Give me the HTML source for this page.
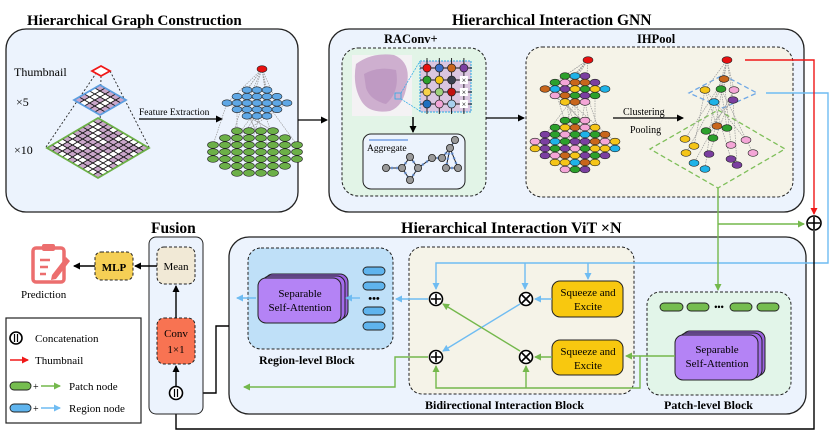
<!DOCTYPE html>
<html><head><meta charset="utf-8"><style>
html,body{margin:0;padding:0;background:#fff;}
svg{display:block;font-family:"Liberation Serif",serif;}
.t{font-weight:bold;}
</style></head><body>
<svg id="s" width="830" height="445" viewBox="0 0 830 445" xmlns="http://www.w3.org/2000/svg">
<defs>
<marker id="ak" markerWidth="8" markerHeight="8" refX="6" refY="4" orient="auto" markerUnits="userSpaceOnUse"><path d="M0,0.5 L7,4 L0,7.5 Z" fill="#000"/></marker>
<marker id="ab" markerWidth="8" markerHeight="8" refX="6" refY="4" orient="auto" markerUnits="userSpaceOnUse"><path d="M0,0.5 L7,4 L0,7.5 Z" fill="#6fbcf2"/></marker>
<marker id="ag" markerWidth="8" markerHeight="8" refX="6" refY="4" orient="auto" markerUnits="userSpaceOnUse"><path d="M0,0.5 L7,4 L0,7.5 Z" fill="#74b84c"/></marker>
<marker id="ar" markerWidth="8" markerHeight="8" refX="6" refY="4" orient="auto" markerUnits="userSpaceOnUse"><path d="M0,0.5 L7,4 L0,7.5 Z" fill="#f01818"/></marker>
</defs>

<text x="27" y="25" class="t" font-size="15">Hierarchical Graph Construction</text>
<text x="452" y="25" class="t" font-size="15.5">Hierarchical Interaction GNN</text>
<text x="151" y="233" class="t" font-size="15.5">Fusion</text>
<text x="401" y="233" class="t" font-size="16">Hierarchical Interaction ViT ×N</text>

<rect x="6" y="29" width="292" height="183" rx="20" fill="#ecf3fd" stroke="#222" stroke-width="1.3"/>
<rect x="329" y="29" width="475" height="183" rx="20" fill="#ecf3fd" stroke="#222" stroke-width="1.3"/>
<rect x="342" y="48" width="144" height="148" rx="16" fill="#e2f4e7" stroke="#222" stroke-dasharray="3,2"/>
<text x="384" y="43" class="t" font-size="12.5">RAConv+</text>
<rect x="526" y="47" width="267" height="150" rx="16" fill="#f5f3e8" stroke="#222" stroke-dasharray="3,2"/>
<text x="637" y="43" class="t" font-size="12.5">IHPool</text>
<rect x="363" y="134" width="102" height="55" rx="8" fill="#ecf3fd" stroke="#222" stroke-width="1"/>
<text x="367" y="151" font-size="9.5">Aggregate</text>
<line x1="369" y1="140" x2="408" y2="140" stroke="#5b8fe0" stroke-width="1.2"/>

<text x="14" y="76" font-size="12">Thumbnail</text>
<text x="16" y="106" font-size="12">×5</text>
<text x="14" y="154" font-size="12">×10</text>
<text x="139" y="115" font-size="9.5">Feature Extraction</text>
<line x1="139" y1="119" x2="222" y2="119" stroke="#000" stroke-width="1.3" marker-end="url(#ak)"/>
<g id="pyr"></g>
<g id="hg"></g>

<line x1="298" y1="120" x2="327" y2="120" stroke="#000" stroke-width="1.3" marker-end="url(#ak)"/>
<line x1="486" y1="118" x2="524" y2="118" stroke="#000" stroke-width="1.3" marker-end="url(#ak)"/>
<line x1="413" y1="117" x2="413" y2="132" stroke="#000" stroke-width="1.5" marker-end="url(#ak)"/>

<rect x="352" y="55" width="60" height="61" fill="#f4f2f4"/>
<path d="M356,64 Q372,52 394,55 Q411,62 407,84 Q404,106 390,111 Q370,114 362,102 Q352,86 356,64Z" fill="#c7a3c8" opacity="0.85"/>
<path d="M364,74 Q378,66 396,70 Q400,92 386,104 Q370,100 366,88Z" fill="#b58cba" opacity="0.6"/>
<rect x="395" y="93" width="6" height="6" fill="none" stroke="#2aa9e6" stroke-width="0.8"/>
<line x1="401" y1="93" x2="420" y2="61" stroke="#2aa9e6" stroke-width="0.7" stroke-dasharray="2,1"/>
<line x1="401" y1="99" x2="420" y2="111" stroke="#2aa9e6" stroke-width="0.7" stroke-dasharray="2,1"/>
<rect x="420" y="61" width="51" height="51" fill="#dac6e0" stroke="#2aa9e6" stroke-dasharray="2,1"/>
<g id="rac"></g>

<text x="623" y="115" font-size="10">Clustering</text>
<text x="630" y="133" font-size="10">Pooling</text>
<line x1="613" y1="118" x2="683" y2="118" stroke="#000" stroke-width="1.3" marker-end="url(#ak)"/>
<g id="ih"></g>

<rect x="229" y="237" width="577" height="177" rx="20" fill="#ecf3fd" stroke="#222" stroke-width="1.3"/>
<rect x="248" y="248" width="145" height="101" rx="13" fill="#bfe0f8" stroke="#222" stroke-dasharray="3,2"/>
<text x="259" y="364" class="t" font-size="12">Region-level Block</text>
<rect x="409" y="247" width="225" height="147" rx="13" fill="#f5f3e8" stroke="#222" stroke-dasharray="3,2"/>
<text x="425" y="409" class="t" font-size="12">Bidirectional Interaction Block</text>
<rect x="647" y="292" width="144" height="103" rx="13" fill="#e2f5e9" stroke="#222" stroke-dasharray="3,2"/>
<text x="664" y="409" class="t" font-size="12">Patch-level Block</text>

<rect x="265" y="274" width="83" height="45" rx="8" fill="#9b63e0" stroke="#222"/>
<rect x="262" y="276" width="83" height="45" rx="8" fill="#a36ceb" stroke="#222"/>
<rect x="258" y="278" width="83" height="45" rx="8" fill="#b483f5" stroke="#222"/>
<text x="300" y="297" text-anchor="middle" font-size="11">Separable</text>
<text x="300" y="311" text-anchor="middle" font-size="11">Self-Attention</text>
<rect x="682" y="331" width="83" height="45" rx="8" fill="#9b63e0" stroke="#222"/>
<rect x="679" y="333" width="83" height="45" rx="8" fill="#a36ceb" stroke="#222"/>
<rect x="675" y="335" width="83" height="45" rx="8" fill="#b483f5" stroke="#222"/>
<text x="717" y="353" text-anchor="middle" font-size="11">Separable</text>
<text x="717" y="367" text-anchor="middle" font-size="11">Self-Attention</text>

<g fill="#5fb4ee" stroke="#222" stroke-width="0.9">
<rect x="363" y="267" width="22" height="8" rx="4"/><rect x="363" y="282" width="22" height="8" rx="4"/>
<rect x="363" y="307" width="22" height="8" rx="4"/><rect x="363" y="322" width="22" height="8" rx="4"/>
</g>
<text x="374" y="302" text-anchor="middle" font-size="11" font-weight="bold">•••</text>
<g fill="#75bd4f" stroke="#222" stroke-width="0.9">
<rect x="660" y="303" width="23" height="8" rx="4"/><rect x="687" y="303" width="22" height="8" rx="4"/>
<rect x="730" y="303" width="22" height="8" rx="4"/><rect x="757" y="303" width="22" height="8" rx="4"/>
</g>
<text x="719" y="310" text-anchor="middle" font-size="9" font-weight="bold">•••</text>

<rect x="552" y="281" width="71" height="36" rx="8" fill="#f8c80f" stroke="#222"/>
<text x="588" y="296" text-anchor="middle" font-size="11">Squeeze and</text>
<text x="588" y="310" text-anchor="middle" font-size="11">Excite</text>
<rect x="552" y="340" width="71" height="35" rx="8" fill="#f8c80f" stroke="#222"/>
<text x="588" y="355" text-anchor="middle" font-size="11">Squeeze and</text>
<text x="588" y="369" text-anchor="middle" font-size="11">Excite</text>

<g fill="none" stroke-width="1.4">
<polyline points="766,93 828,93 828,263 436,263 436,289" stroke="#6fbcf2" marker-end="url(#ab)"/>
<line x1="525" y1="263" x2="525" y2="289" stroke="#6fbcf2" marker-end="url(#ab)"/>
<line x1="588" y1="263" x2="588" y2="279" stroke="#6fbcf2" marker-end="url(#ab)"/>
<line x1="552" y1="299" x2="535" y2="299" stroke="#6fbcf2" marker-end="url(#ab)"/>
<line x1="520" y1="304" x2="443" y2="351" stroke="#6fbcf2" marker-end="url(#ab)"/>
<line x1="428" y1="299" x2="396" y2="299" stroke="#6fbcf2" marker-end="url(#ab)"/>
<line x1="360" y1="298" x2="346" y2="298" stroke="#6fbcf2" marker-end="url(#ab)"/>
<line x1="256" y1="298" x2="237" y2="298" stroke="#6fbcf2" marker-end="url(#ab)"/>
<polyline points="718,188 718,290" stroke="#74b84c" marker-end="url(#ag)"/>
<line x1="718" y1="224" x2="804" y2="224" stroke="#74b84c" marker-end="url(#ag)"/>
<polyline points="675,356 640,356 640,388 436,388 436,366" stroke="#74b84c" marker-end="url(#ag)"/>
<line x1="640" y1="356" x2="626" y2="356" stroke="#74b84c" marker-end="url(#ag)"/>
<line x1="526" y1="388" x2="526" y2="366" stroke="#74b84c" marker-end="url(#ag)"/>
<line x1="552" y1="357" x2="535" y2="357" stroke="#74b84c" marker-end="url(#ag)"/>
<line x1="520" y1="351" x2="443" y2="304" stroke="#74b84c" marker-end="url(#ag)"/>
<polyline points="428,357 395,357 395,387 244,387" stroke="#74b84c" marker-end="url(#ag)"/>
<polyline points="745,60 814,60 814,214" stroke="#f01818" marker-end="url(#ar)"/>
<polyline points="814,231 814,429 176,429 176,401" stroke="#000" marker-end="url(#ak)"/>
<polyline points="229,326 216,326 216,393 185,393" stroke="#000" marker-end="url(#ak)"/>
</g>

<g fill="#fff" stroke="#000" stroke-width="1.6">
<circle cx="436" cy="299" r="6.5"/><circle cx="436" cy="357" r="6.5"/>
<circle cx="526" cy="299" r="6.5"/><circle cx="526" cy="357" r="6.5"/>
<circle cx="814" cy="223" r="7"/>
</g>
<g stroke="#000" stroke-width="1.6">
<path d="M431,299h10M436,294v10M431,357h10M436,352v10M808,223h12M814,217v12"/>
<path d="M522,295l8,8M530,295l-8,8M522,353l8,8M530,353l-8,8"/>
</g>

<rect x="149" y="237" width="54" height="177" rx="7" fill="#ecf3fd" stroke="#222"/>
<rect x="157" y="247" width="38" height="37" rx="7" fill="#f1e9d6" stroke="#222" stroke-dasharray="3,2"/>
<text x="176" y="270" text-anchor="middle" font-size="11">Mean</text>
<rect x="157" y="318" width="38" height="46" rx="7" fill="#f87352" stroke="#222" stroke-dasharray="3,2"/>
<text x="176" y="337" text-anchor="middle" font-size="11">Conv</text>
<text x="176" y="353" text-anchor="middle" font-size="11">1×1</text>
<circle cx="176" cy="393" r="6.5" fill="#fff" stroke="#000" stroke-width="1.6"/>
<path d="M174.5,389v8M177.5,389v8" stroke="#000" stroke-width="1.2"/>
<g stroke="#000" stroke-width="1.4">
<line x1="176" y1="386" x2="176" y2="366" marker-end="url(#ak)"/>
<line x1="176" y1="318" x2="176" y2="286" marker-end="url(#ak)"/>
<line x1="157" y1="266" x2="135" y2="266" marker-end="url(#ak)"/>
<line x1="95" y1="266" x2="74" y2="266" marker-end="url(#ak)"/>
</g>
<rect x="95" y="252" width="38" height="28" rx="6" fill="#f5cf55" stroke="#222" stroke-dasharray="3,2"/>
<text x="114" y="271" text-anchor="middle" font-size="11" font-weight="bold">MLP</text>
<rect x="33" y="248" width="31" height="34" rx="3" fill="none" stroke="#ec6e6e" stroke-width="3.5"/>
<rect x="42" y="244" width="13" height="7" rx="2" fill="#ec6e6e"/>
<path d="M40,260h10M40,267h8M40,274h6" stroke="#ec6e6e" stroke-width="2.5"/>
<path d="M52,275 L66,257 L70,261 L56,279 L51,280Z" fill="#ec6e6e"/>
<text x="21" y="298" font-size="11">Prediction</text>

<rect x="6" y="318" width="135" height="105" fill="#fff" stroke="#222" stroke-width="1.2"/>
<circle cx="16" cy="338" r="6" fill="#fff" stroke="#000" stroke-width="1.6"/>
<path d="M14.5,334v8M17.5,334v8" stroke="#000" stroke-width="1.2"/>
<text x="35" y="342" font-size="11">Concatenation</text>
<line x1="10" y1="360" x2="28" y2="360" stroke="#f01818" stroke-width="1.4" marker-end="url(#ar)"/>
<text x="35" y="364" font-size="11">Thumbnail</text>
<rect x="10" y="382" width="21" height="8" rx="4" fill="#75bd4f" stroke="#222" stroke-width="0.9"/>
<text x="33" y="390" font-size="10">+</text>
<line x1="41" y1="386" x2="60" y2="386" stroke="#74b84c" stroke-width="1.4" marker-end="url(#ag)"/>
<text x="69" y="390" font-size="11">Patch node</text>
<rect x="10" y="404" width="21" height="8" rx="4" fill="#5fb4ee" stroke="#222" stroke-width="0.9"/>
<text x="33" y="412" font-size="10">+</text>
<line x1="41" y1="408" x2="60" y2="408" stroke="#6fbcf2" stroke-width="1.4" marker-end="url(#ab)"/>
<text x="69" y="412" font-size="11">Region node</text>
</svg>
<script>
var NS="http://www.w3.org/2000/svg";
function el(p,t,a){var e=document.createElementNS(NS,t);for(var k in a)e.setAttribute(k,a[k]);p.appendChild(e);return e;}
var seed=7;function rnd(){seed=(seed*9301+49297)%233280;return seed/233280;}
var pyr=document.getElementById("pyr");
function diamond(cx,cy,a,b,col,n,pat){
 var d="M"+cx+","+(cy-b)+"L"+(cx+a)+","+cy+"L"+cx+","+(cy+b)+"L"+(cx-a)+","+cy+"Z";
 el(pyr,"path",{d:d,fill:"#fff",stroke:"none"});
 var T=[cx,cy-b],R=[cx+a,cy],L=[cx-a,cy];
 function P(u,v){return [T[0]+u*(R[0]-T[0])+v*(L[0]-T[0]),T[1]+u*(R[1]-T[1])+v*(L[1]-T[1])];}
 if(pat){for(var i=0;i<n;i++)for(var j=0;j<n;j++)if(rnd()<0.5){var p1=P(i/n,j/n),p2=P((i+1)/n,j/n),p3=P((i+1)/n,(j+1)/n),p4=P(i/n,(j+1)/n);el(pyr,"path",{d:"M"+p1+"L"+p2+"L"+p3+"L"+p4+"Z",fill:"#c9a6c9"});}}
 for(var i=1;i<n;i++){var a1=P(i/n,0),a2=P(i/n,1),b1=P(0,i/n),b2=P(1,i/n);
  el(pyr,"line",{x1:a1[0],y1:a1[1],x2:a2[0],y2:a2[1],stroke:"#111","stroke-width":0.9});
  el(pyr,"line",{x1:b1[0],y1:b1[1],x2:b2[0],y2:b2[1],stroke:"#111","stroke-width":0.9});}
 el(pyr,"path",{d:d,fill:"none",stroke:col,"stroke-width":1.8});
}
[[101,66,46,147],[110,71,149,147],[101,76,99,177]].forEach(function(l){el(pyr,"line",{x1:l[0],y1:l[1],x2:l[2],y2:l[3],stroke:"#222","stroke-dasharray":"2,2","stroke-width":0.9});});
diamond(98,148,51,30,"#6cb048",10,true);
diamond(100,100,26,15,"#5c9ee0",5,true);
diamond(101,71,9,5,"#f01818",1,false);
var hg=document.getElementById("hg");
function grid(g,cx,cy,rows,sx,sy){
 var pts=[];var nr=rows.length;
 rows.forEach(function(c,ri){var y=cy+(ri-(nr-1)/2)*sy;for(var k=0;k<c;k++){var x=cx+(k-(c-1)/2)*sx;pts.push([x,y]);}});
 return pts;
}
var gp=grid(hg,255,152,[4,6,8,8,8,6,4],12,7);
var bp=grid(hg,257,103,[3,5,7,5,3],10,6.5);
for(var i=0;i<14;i++){var a=bp[Math.floor(rnd()*bp.length)],b=gp[Math.floor(rnd()*gp.length)];el(hg,"line",{x1:a[0],y1:a[1],x2:b[0],y2:b[1],stroke:"#999","stroke-dasharray":"1.5,1","stroke-width":0.7});}
for(var i=0;i<10;i++){var b=bp[Math.floor(rnd()*bp.length)];el(hg,"line",{x1:262,y1:69,x2:b[0],y2:b[1],stroke:"#999","stroke-dasharray":"1.5,1","stroke-width":0.7});}
gp.forEach(function(p){el(hg,"ellipse",{cx:p[0],cy:p[1],rx:5.5,ry:3.3,fill:"#6cb048",stroke:"#222","stroke-width":0.6});});
bp.forEach(function(p){el(hg,"ellipse",{cx:p[0],cy:p[1],rx:5,ry:3.2,fill:"#5fa8e6",stroke:"#222","stroke-width":0.6});});
el(hg,"ellipse",{cx:262,cy:69,rx:5,ry:3.3,fill:"#e81010",stroke:"#222","stroke-width":0.6});
var rac=document.getElementById("rac");
for(var i=0;i<4;i++){el(rac,"line",{x1:420,y1:68+i*12,x2:472,y2:68+i*12,stroke:"#111","stroke-width":0.9});el(rac,"line",{x1:427+i*12.3,y1:58,x2:427+i*12.3,y2:114,stroke:"#111","stroke-width":0.9});}
var rc=[["#e81010","#3a6ec8","#c8661c","#7b3fa0"],["#2ca02c","#f5c518","#39404f",null],["#f7d24a","#9fd27e","#c01010",null],["#1e70c0","#f4a6d7","#a8d0ee",null]];
rc.forEach(function(r,ri){r.forEach(function(c,ci){var x=427+ci*12.3,y=68+ri*12;if(c)el(rac,"circle",{cx:x,cy:y,r:4,fill:c,stroke:"#222","stroke-width":0.7});else{el(rac,"rect",{x:x-4,y:y-4,width:8,height:8,fill:"#fff"});var t=el(rac,"text",{x:x,y:y+3,"font-size":8,"text-anchor":"middle"});t.textContent="×";}});});
var an=[[386,168],[402,168],[410,157],[410,180],[418,168],[432,158],[442,158],[450,148],[446,168],[458,168],[455,140]];
[[0,1],[1,2],[1,3],[2,4],[3,4],[4,5],[5,6],[6,7],[7,8],[7,9],[8,9],[7,10]].forEach(function(e){el(rac,"line",{x1:an[e[0]][0],y1:an[e[0]][1],x2:an[e[1]][0],y2:an[e[1]][1],stroke:"#222","stroke-width":1});el(rac,"line",{x1:an[e[0]][0],y1:an[e[0]][1],x2:an[e[1]][0],y2:an[e[1]][1],stroke:"#5b8fe0","stroke-width":2.5,"stroke-dasharray":"2,3",opacity:0.7});});
an.forEach(function(p){el(rac,"circle",{cx:p[0],cy:p[1],r:3.6,fill:"#999",stroke:"#222","stroke-width":0.8});});
var ih=document.getElementById("ih");
var pal=["#f5c518","#2ca02c","#7b3fa0","#f4a6d7","#1fb3e8","#c8661c"];
var up=grid(ih,575,89,[3,5,7,5,3],10,6.5),lp=grid(ih,575,145,[3,5,7,9,9,7,5,3],10,7);
for(var i=0;i<14;i++){var a=up[Math.floor(rnd()*up.length)],b=lp[Math.floor(rnd()*lp.length)];el(ih,"line",{x1:a[0],y1:a[1],x2:b[0],y2:b[1],stroke:"#999","stroke-dasharray":"1.5,1","stroke-width":0.7});}
for(var i=0;i<8;i++){var b=up[Math.floor(rnd()*up.length)];el(ih,"line",{x1:588,y1:60,x2:b[0],y2:b[1],stroke:"#999","stroke-dasharray":"1.5,1","stroke-width":0.7});}
lp.concat(up).forEach(function(p){el(ih,"ellipse",{cx:p[0],cy:p[1],rx:5,ry:3.3,fill:pal[Math.floor(rnd()*6)],stroke:"#222","stroke-width":0.6});});
el(ih,"ellipse",{cx:588,cy:60,rx:5,ry:3.3,fill:"#e81010",stroke:"#222","stroke-width":0.6});
el(ih,"path",{d:"M723,75L757,93L723,108L689,93Z",fill:"none",stroke:"#6fa8e6","stroke-width":1.3,"stroke-dasharray":"5,3"});
el(ih,"path",{d:"M718,110L785,149L718,188L650,149Z",fill:"none",stroke:"#7fbf5a","stroke-width":1.3,"stroke-dasharray":"5,3"});
var tp=[[724,79,"#c8661c"],[705,90,"#f5c518"],[721,89,"#2ca02c"],[734,90,"#f4a6d7"],[714,102,"#1fb3e8"],[733,100,"#7b3fa0"]];
var bp2=[[685,139,"#f5c518"],[694,146,"#f5c518"],[686,153,"#f5c518"],[694,163,"#1fb3e8"],[705,169,"#1fb3e8"],[706,131,"#2ca02c"],[713,138,"#2ca02c"],[717,126,"#c8661c"],[727,128,"#2ca02c"],[709,154,"#7b3fa0"],[731,159,"#7b3fa0"],[737,165,"#7b3fa0"],[731,145,"#f4a6d7"],[746,140,"#f4a6d7"],[753,153,"#f4a6d7"]];
bp2.forEach(function(b,i){var a=tp[i%tp.length];el(ih,"line",{x1:a[0],y1:a[1],x2:b[0],y2:b[1],stroke:"#999","stroke-dasharray":"1.5,1","stroke-width":0.7});});
tp.forEach(function(a){el(ih,"line",{x1:727,y1:60,x2:a[0],y2:a[1],stroke:"#999","stroke-dasharray":"1.5,1","stroke-width":0.7});});
tp.concat(bp2).forEach(function(p){el(ih,"ellipse",{cx:p[0],cy:p[1],rx:5,ry:3.3,fill:p[2],stroke:"#222","stroke-width":0.6});});
el(ih,"ellipse",{cx:727,cy:60,rx:5,ry:3.3,fill:"#e81010",stroke:"#222","stroke-width":0.6});
</script>
</body></html>
